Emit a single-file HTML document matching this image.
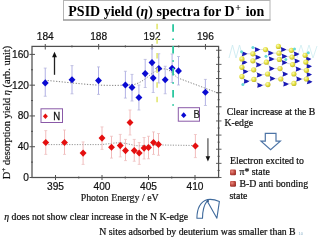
<!DOCTYPE html>
<html><head><meta charset="utf-8"><style>
html,body{margin:0;padding:0;background:#fff;width:320px;height:240px;overflow:hidden}
svg{display:block;will-change:transform}
</style></head><body>
<svg width="320" height="240" viewBox="0 0 320 240">
<rect width="320" height="240" fill="#fff"/>
<rect x="63.5" y="0.5" width="206.5" height="19.5" fill="#fff" stroke="#b4b4b4" stroke-width="1"/><line x1="63" y1="20" x2="270.5" y2="20" stroke="#8a8a8a" stroke-width="1"/>
<text transform="translate(68.3,15.5) scale(1,0.97)" font-family="'Liberation Serif', serif" font-weight="bold" font-size="14px" fill="#000">PSID yield (<tspan font-style="italic">η</tspan>) spectra for D<tspan font-size="10px" dy="-5" dx="0.6">+</tspan><tspan dy="5" dx="1.2"> ion</tspan></text>
<rect x="32.0" y="46.4" width="186.60" height="131.10" fill="none" stroke="#505050" stroke-width="1.25"/>
<line x1="29.5" y1="177.50" x2="35" y2="177.50" stroke="#505050" stroke-width="1"/>
<text transform="translate(29.0,180.90) scale(1,1.12)" text-anchor="end" font-family="'Liberation Sans', sans-serif" font-size="10.2px" fill="#111" stroke="#111" stroke-width="0.2">0</text>
<line x1="29.5" y1="146.72" x2="35" y2="146.72" stroke="#505050" stroke-width="1"/>
<text transform="translate(29.0,150.12) scale(1,1.12)" text-anchor="end" font-family="'Liberation Sans', sans-serif" font-size="10.2px" fill="#111" stroke="#111" stroke-width="0.2">40</text>
<line x1="29.5" y1="115.95" x2="35" y2="115.95" stroke="#505050" stroke-width="1"/>
<text transform="translate(29.0,119.35) scale(1,1.12)" text-anchor="end" font-family="'Liberation Sans', sans-serif" font-size="10.2px" fill="#111" stroke="#111" stroke-width="0.2">80</text>
<line x1="29.5" y1="85.17" x2="35" y2="85.17" stroke="#505050" stroke-width="1"/>
<text transform="translate(29.0,88.58) scale(1,1.12)" text-anchor="end" font-family="'Liberation Sans', sans-serif" font-size="10.2px" fill="#111" stroke="#111" stroke-width="0.2">120</text>
<line x1="29.5" y1="54.40" x2="35" y2="54.40" stroke="#505050" stroke-width="1"/>
<text transform="translate(29.0,57.80) scale(1,1.12)" text-anchor="end" font-family="'Liberation Sans', sans-serif" font-size="10.2px" fill="#111" stroke="#111" stroke-width="0.2">160</text>
<line x1="31" y1="162.11" x2="33" y2="162.11" stroke="#505050" stroke-width="1"/>
<line x1="31" y1="131.34" x2="33" y2="131.34" stroke="#505050" stroke-width="1"/>
<line x1="31" y1="100.56" x2="33" y2="100.56" stroke="#505050" stroke-width="1"/>
<line x1="31" y1="69.79" x2="33" y2="69.79" stroke="#505050" stroke-width="1"/>
<line x1="55.50" y1="175" x2="55.50" y2="180" stroke="#505050" stroke-width="1"/>
<text transform="translate(55.50,190.2) scale(1,1.12)" text-anchor="middle" font-family="'Liberation Sans', sans-serif" font-size="10.2px" fill="#111" stroke="#111" stroke-width="0.2">395</text>
<line x1="102.00" y1="175" x2="102.00" y2="180" stroke="#505050" stroke-width="1"/>
<text transform="translate(102.00,190.2) scale(1,1.12)" text-anchor="middle" font-family="'Liberation Sans', sans-serif" font-size="10.2px" fill="#111" stroke="#111" stroke-width="0.2">400</text>
<line x1="148.50" y1="175" x2="148.50" y2="180" stroke="#505050" stroke-width="1"/>
<text transform="translate(148.50,190.2) scale(1,1.12)" text-anchor="middle" font-family="'Liberation Sans', sans-serif" font-size="10.2px" fill="#111" stroke="#111" stroke-width="0.2">405</text>
<line x1="195.00" y1="175" x2="195.00" y2="180" stroke="#505050" stroke-width="1"/>
<text transform="translate(195.00,190.2) scale(1,1.12)" text-anchor="middle" font-family="'Liberation Sans', sans-serif" font-size="10.2px" fill="#111" stroke="#111" stroke-width="0.2">410</text>
<line x1="78.75" y1="176.5" x2="78.75" y2="178.5" stroke="#505050" stroke-width="1"/>
<line x1="125.25" y1="176.5" x2="125.25" y2="178.5" stroke="#505050" stroke-width="1"/>
<line x1="171.75" y1="176.5" x2="171.75" y2="178.5" stroke="#505050" stroke-width="1"/>
<line x1="45.25" y1="44" x2="45.25" y2="49.5" stroke="#505050" stroke-width="1"/>
<text transform="translate(45.25,40.3) scale(1,1.12)" text-anchor="middle" font-family="'Liberation Sans', sans-serif" font-size="10.2px" fill="#111" stroke="#111" stroke-width="0.2">184</text>
<line x1="98.65" y1="44" x2="98.65" y2="49.5" stroke="#505050" stroke-width="1"/>
<text transform="translate(98.65,40.3) scale(1,1.12)" text-anchor="middle" font-family="'Liberation Sans', sans-serif" font-size="10.2px" fill="#111" stroke="#111" stroke-width="0.2">188</text>
<line x1="152.05" y1="44" x2="152.05" y2="49.5" stroke="#505050" stroke-width="1"/>
<text transform="translate(152.05,40.3) scale(1,1.12)" text-anchor="middle" font-family="'Liberation Sans', sans-serif" font-size="10.2px" fill="#111" stroke="#111" stroke-width="0.2">192</text>
<line x1="205.45" y1="44" x2="205.45" y2="49.5" stroke="#505050" stroke-width="1"/>
<text transform="translate(205.45,40.3) scale(1,1.12)" text-anchor="middle" font-family="'Liberation Sans', sans-serif" font-size="10.2px" fill="#111" stroke="#111" stroke-width="0.2">196</text>
<line x1="71.95" y1="45.4" x2="71.95" y2="47.4" stroke="#505050" stroke-width="1"/>
<line x1="125.35" y1="45.4" x2="125.35" y2="47.4" stroke="#505050" stroke-width="1"/>
<line x1="178.75" y1="45.4" x2="178.75" y2="47.4" stroke="#505050" stroke-width="1"/>
<line x1="216" y1="50.25" x2="221.5" y2="50.25" stroke="#505050" stroke-width="0.9"/>
<line x1="217.5" y1="57.32" x2="219.8" y2="57.32" stroke="#505050" stroke-width="0.9"/>
<line x1="216" y1="64.39" x2="221.5" y2="64.39" stroke="#505050" stroke-width="0.9"/>
<line x1="217.5" y1="71.46" x2="219.8" y2="71.46" stroke="#505050" stroke-width="0.9"/>
<line x1="216" y1="78.53" x2="221.5" y2="78.53" stroke="#505050" stroke-width="0.9"/>
<line x1="217.5" y1="85.60" x2="219.8" y2="85.60" stroke="#505050" stroke-width="0.9"/>
<line x1="216" y1="92.67" x2="221.5" y2="92.67" stroke="#505050" stroke-width="0.9"/>
<line x1="217.5" y1="99.74" x2="219.8" y2="99.74" stroke="#505050" stroke-width="0.9"/>
<line x1="216" y1="106.81" x2="221.5" y2="106.81" stroke="#505050" stroke-width="0.9"/>
<line x1="217.5" y1="113.88" x2="219.8" y2="113.88" stroke="#505050" stroke-width="0.9"/>
<line x1="216" y1="120.95" x2="221.5" y2="120.95" stroke="#505050" stroke-width="0.9"/>
<line x1="217.5" y1="128.02" x2="219.8" y2="128.02" stroke="#505050" stroke-width="0.9"/>
<line x1="216" y1="135.09" x2="221.5" y2="135.09" stroke="#505050" stroke-width="0.9"/>
<line x1="217.5" y1="142.16" x2="219.8" y2="142.16" stroke="#505050" stroke-width="0.9"/>
<line x1="216" y1="149.23" x2="221.5" y2="149.23" stroke="#505050" stroke-width="0.9"/>
<line x1="217.5" y1="156.30" x2="219.8" y2="156.30" stroke="#505050" stroke-width="0.9"/>
<line x1="216" y1="163.37" x2="221.5" y2="163.37" stroke="#505050" stroke-width="0.9"/>
<line x1="217.5" y1="170.44" x2="219.8" y2="170.44" stroke="#505050" stroke-width="0.9"/>
<line x1="216" y1="177.51" x2="221.5" y2="177.51" stroke="#505050" stroke-width="0.9"/>
<text x="80.7" y="200.6" font-family="'Liberation Serif', serif" font-size="9.9px" fill="#111" stroke="#111" stroke-width="0.18">Photon Energy / eV</text>
<text transform="translate(10,179.2) rotate(-90) scale(1.04,1)" font-family="'Liberation Serif', serif" font-size="10px" fill="#111" stroke="#111" stroke-width="0.18">D<tspan font-size="7px" dy="-4.5">+</tspan><tspan dy="4.5"> desorption yield </tspan><tspan font-style="italic">η</tspan> (arb. unit)</text>
<path d="M45,80.3 C60,81.5 80,84 96,85 C110,85.6 124,85.6 134.5,84.4 C141,82.5 146,78.5 150,75 C154,71.5 159,69.2 164,68.9 C168,68.9 171,71.5 174,74.5 C175.5,76 177,77.6 178.5,78.2 L218,93" fill="none" stroke="#6e6e6e" stroke-width="0.9" stroke-dasharray="1.2 1.6"/>
<path d="M45.75,144.6 L100,144.6 C108,144.2 113,142.8 119,142.8 C124,142.8 128,144 132,144.8 C135,145.5 137,145.9 140,145.8 C148,145.3 155,145 162,145 L195.4,145.5" fill="none" stroke="#8a8a8a" stroke-width="0.9" stroke-dasharray="1.2 1.4"/>
<line x1="45.25" y1="68.10" x2="45.25" y2="96.25" stroke="#a8a8e2" stroke-width="0.9"/><line x1="43.75" y1="68.10" x2="46.75" y2="68.10" stroke="#b0b0d8" stroke-width="0.7"/><line x1="43.75" y1="96.25" x2="46.75" y2="96.25" stroke="#b0b0d8" stroke-width="0.7"/>
<line x1="72.00" y1="65.60" x2="72.00" y2="93.80" stroke="#a8a8e2" stroke-width="0.9"/><line x1="70.50" y1="65.60" x2="73.50" y2="65.60" stroke="#b0b0d8" stroke-width="0.7"/><line x1="70.50" y1="93.80" x2="73.50" y2="93.80" stroke="#b0b0d8" stroke-width="0.7"/>
<line x1="98.50" y1="66.90" x2="98.50" y2="94.40" stroke="#a8a8e2" stroke-width="0.9"/><line x1="97.00" y1="66.90" x2="100.00" y2="66.90" stroke="#b0b0d8" stroke-width="0.7"/><line x1="97.00" y1="94.40" x2="100.00" y2="94.40" stroke="#b0b0d8" stroke-width="0.7"/>
<line x1="125.40" y1="71.25" x2="125.40" y2="98.10" stroke="#a8a8e2" stroke-width="0.9"/><line x1="123.90" y1="71.25" x2="126.90" y2="71.25" stroke="#b0b0d8" stroke-width="0.7"/><line x1="123.90" y1="98.10" x2="126.90" y2="98.10" stroke="#b0b0d8" stroke-width="0.7"/>
<line x1="132.00" y1="74.40" x2="132.00" y2="101.00" stroke="#a8a8e2" stroke-width="0.9"/><line x1="130.50" y1="74.40" x2="133.50" y2="74.40" stroke="#b0b0d8" stroke-width="0.7"/><line x1="130.50" y1="101.00" x2="133.50" y2="101.00" stroke="#b0b0d8" stroke-width="0.7"/>
<line x1="138.90" y1="85.00" x2="138.90" y2="110.00" stroke="#a8a8e2" stroke-width="0.9"/><line x1="137.40" y1="85.00" x2="140.40" y2="85.00" stroke="#b0b0d8" stroke-width="0.7"/><line x1="137.40" y1="110.00" x2="140.40" y2="110.00" stroke="#b0b0d8" stroke-width="0.7"/>
<line x1="145.20" y1="59.40" x2="145.20" y2="87.50" stroke="#a8a8e2" stroke-width="0.9"/><line x1="143.70" y1="59.40" x2="146.70" y2="59.40" stroke="#b0b0d8" stroke-width="0.7"/><line x1="143.70" y1="87.50" x2="146.70" y2="87.50" stroke="#b0b0d8" stroke-width="0.7"/>
<line x1="152.00" y1="48.50" x2="152.00" y2="76.50" stroke="#a8a8e2" stroke-width="0.9"/><line x1="150.50" y1="48.50" x2="153.50" y2="48.50" stroke="#b0b0d8" stroke-width="0.7"/><line x1="150.50" y1="76.50" x2="153.50" y2="76.50" stroke="#b0b0d8" stroke-width="0.7"/>
<line x1="153.20" y1="63.50" x2="153.20" y2="92.50" stroke="#a8a8e2" stroke-width="0.9"/><line x1="151.70" y1="63.50" x2="154.70" y2="63.50" stroke="#b0b0d8" stroke-width="0.7"/><line x1="151.70" y1="92.50" x2="154.70" y2="92.50" stroke="#b0b0d8" stroke-width="0.7"/>
<line x1="158.80" y1="53.75" x2="158.80" y2="83.00" stroke="#a8a8e2" stroke-width="0.9"/><line x1="157.30" y1="53.75" x2="160.30" y2="53.75" stroke="#b0b0d8" stroke-width="0.7"/><line x1="157.30" y1="83.00" x2="160.30" y2="83.00" stroke="#b0b0d8" stroke-width="0.7"/>
<line x1="165.20" y1="66.25" x2="165.20" y2="93.75" stroke="#a8a8e2" stroke-width="0.9"/><line x1="163.70" y1="66.25" x2="166.70" y2="66.25" stroke="#b0b0d8" stroke-width="0.7"/><line x1="163.70" y1="93.75" x2="166.70" y2="93.75" stroke="#b0b0d8" stroke-width="0.7"/>
<line x1="172.10" y1="54.00" x2="172.10" y2="82.50" stroke="#a8a8e2" stroke-width="0.9"/><line x1="170.60" y1="54.00" x2="173.60" y2="54.00" stroke="#b0b0d8" stroke-width="0.7"/><line x1="170.60" y1="82.50" x2="173.60" y2="82.50" stroke="#b0b0d8" stroke-width="0.7"/>
<line x1="178.50" y1="56.50" x2="178.50" y2="85.00" stroke="#a8a8e2" stroke-width="0.9"/><line x1="177.00" y1="56.50" x2="180.00" y2="56.50" stroke="#b0b0d8" stroke-width="0.7"/><line x1="177.00" y1="85.00" x2="180.00" y2="85.00" stroke="#b0b0d8" stroke-width="0.7"/>
<line x1="205.40" y1="79.40" x2="205.40" y2="105.50" stroke="#a8a8e2" stroke-width="0.9"/><line x1="203.90" y1="79.40" x2="206.90" y2="79.40" stroke="#b0b0d8" stroke-width="0.7"/><line x1="203.90" y1="105.50" x2="206.90" y2="105.50" stroke="#b0b0d8" stroke-width="0.7"/>
<line x1="45.75" y1="130.60" x2="45.75" y2="154.40" stroke="#f0b4b4" stroke-width="0.9"/><line x1="44.25" y1="130.60" x2="47.25" y2="130.60" stroke="#ecbcbc" stroke-width="0.7"/><line x1="44.25" y1="154.40" x2="47.25" y2="154.40" stroke="#ecbcbc" stroke-width="0.7"/>
<line x1="64.50" y1="130.00" x2="64.50" y2="154.40" stroke="#f0b4b4" stroke-width="0.9"/><line x1="63.00" y1="130.00" x2="66.00" y2="130.00" stroke="#ecbcbc" stroke-width="0.7"/><line x1="63.00" y1="154.40" x2="66.00" y2="154.40" stroke="#ecbcbc" stroke-width="0.7"/>
<line x1="83.10" y1="141.90" x2="83.10" y2="164.40" stroke="#f0b4b4" stroke-width="0.9"/><line x1="81.60" y1="141.90" x2="84.60" y2="141.90" stroke="#ecbcbc" stroke-width="0.7"/><line x1="81.60" y1="164.40" x2="84.60" y2="164.40" stroke="#ecbcbc" stroke-width="0.7"/>
<line x1="102.00" y1="126.90" x2="102.00" y2="149.40" stroke="#f0b4b4" stroke-width="0.9"/><line x1="100.50" y1="126.90" x2="103.50" y2="126.90" stroke="#ecbcbc" stroke-width="0.7"/><line x1="100.50" y1="149.40" x2="103.50" y2="149.40" stroke="#ecbcbc" stroke-width="0.7"/>
<line x1="111.50" y1="136.25" x2="111.50" y2="158.10" stroke="#f0b4b4" stroke-width="0.9"/><line x1="110.00" y1="136.25" x2="113.00" y2="136.25" stroke="#ecbcbc" stroke-width="0.7"/><line x1="110.00" y1="158.10" x2="113.00" y2="158.10" stroke="#ecbcbc" stroke-width="0.7"/>
<line x1="120.25" y1="134.40" x2="120.25" y2="156.90" stroke="#f0b4b4" stroke-width="0.9"/><line x1="118.75" y1="134.40" x2="121.75" y2="134.40" stroke="#ecbcbc" stroke-width="0.7"/><line x1="118.75" y1="156.90" x2="121.75" y2="156.90" stroke="#ecbcbc" stroke-width="0.7"/>
<line x1="125.50" y1="139.40" x2="125.50" y2="160.60" stroke="#f0b4b4" stroke-width="0.9"/><line x1="124.00" y1="139.40" x2="127.00" y2="139.40" stroke="#ecbcbc" stroke-width="0.7"/><line x1="124.00" y1="160.60" x2="127.00" y2="160.60" stroke="#ecbcbc" stroke-width="0.7"/>
<line x1="130.00" y1="110.00" x2="130.00" y2="135.00" stroke="#f0b4b4" stroke-width="0.9"/><line x1="128.50" y1="110.00" x2="131.50" y2="110.00" stroke="#ecbcbc" stroke-width="0.7"/><line x1="128.50" y1="135.00" x2="131.50" y2="135.00" stroke="#ecbcbc" stroke-width="0.7"/>
<line x1="134.25" y1="139.40" x2="134.25" y2="161.25" stroke="#f0b4b4" stroke-width="0.9"/><line x1="132.75" y1="139.40" x2="135.75" y2="139.40" stroke="#ecbcbc" stroke-width="0.7"/><line x1="132.75" y1="161.25" x2="135.75" y2="161.25" stroke="#ecbcbc" stroke-width="0.7"/>
<line x1="139.20" y1="142.50" x2="139.20" y2="164.40" stroke="#f0b4b4" stroke-width="0.9"/><line x1="137.70" y1="142.50" x2="140.70" y2="142.50" stroke="#ecbcbc" stroke-width="0.7"/><line x1="137.70" y1="164.40" x2="140.70" y2="164.40" stroke="#ecbcbc" stroke-width="0.7"/>
<line x1="144.10" y1="137.50" x2="144.10" y2="159.00" stroke="#f0b4b4" stroke-width="0.9"/><line x1="142.60" y1="137.50" x2="145.60" y2="137.50" stroke="#ecbcbc" stroke-width="0.7"/><line x1="142.60" y1="159.00" x2="145.60" y2="159.00" stroke="#ecbcbc" stroke-width="0.7"/>
<line x1="148.50" y1="136.25" x2="148.50" y2="158.75" stroke="#f0b4b4" stroke-width="0.9"/><line x1="147.00" y1="136.25" x2="150.00" y2="136.25" stroke="#ecbcbc" stroke-width="0.7"/><line x1="147.00" y1="158.75" x2="150.00" y2="158.75" stroke="#ecbcbc" stroke-width="0.7"/>
<line x1="153.50" y1="131.90" x2="153.50" y2="154.40" stroke="#f0b4b4" stroke-width="0.9"/><line x1="152.00" y1="131.90" x2="155.00" y2="131.90" stroke="#ecbcbc" stroke-width="0.7"/><line x1="152.00" y1="154.40" x2="155.00" y2="154.40" stroke="#ecbcbc" stroke-width="0.7"/>
<line x1="158.50" y1="133.50" x2="158.50" y2="155.25" stroke="#f0b4b4" stroke-width="0.9"/><line x1="157.00" y1="133.50" x2="160.00" y2="133.50" stroke="#ecbcbc" stroke-width="0.7"/><line x1="157.00" y1="155.25" x2="160.00" y2="155.25" stroke="#ecbcbc" stroke-width="0.7"/>
<line x1="195.40" y1="134.50" x2="195.40" y2="157.60" stroke="#f0b4b4" stroke-width="0.9"/><line x1="193.90" y1="134.50" x2="196.90" y2="134.50" stroke="#ecbcbc" stroke-width="0.7"/><line x1="193.90" y1="157.60" x2="196.90" y2="157.60" stroke="#ecbcbc" stroke-width="0.7"/>
<path d="M45.25,79.35 L48.70,82.90 L45.25,86.45 L41.80,82.90 Z" fill="#0a0ad2"/>
<path d="M72.00,76.15 L75.45,79.70 L72.00,83.25 L68.55,79.70 Z" fill="#0a0ad2"/>
<path d="M98.50,77.05 L101.95,80.60 L98.50,84.15 L95.05,80.60 Z" fill="#0a0ad2"/>
<path d="M125.40,81.45 L128.85,85.00 L125.40,88.55 L121.95,85.00 Z" fill="#0a0ad2"/>
<path d="M132.00,83.85 L135.45,87.40 L132.00,90.95 L128.55,87.40 Z" fill="#0a0ad2"/>
<path d="M138.90,93.95 L142.35,97.50 L138.90,101.05 L135.45,97.50 Z" fill="#0a0ad2"/>
<path d="M145.20,70.05 L148.65,73.60 L145.20,77.15 L141.75,73.60 Z" fill="#0a0ad2"/>
<path d="M152.00,59.05 L155.45,62.60 L152.00,66.15 L148.55,62.60 Z" fill="#0a0ad2"/>
<path d="M153.20,74.55 L156.65,78.10 L153.20,81.65 L149.75,78.10 Z" fill="#0a0ad2"/>
<path d="M158.80,64.95 L162.25,68.50 L158.80,72.05 L155.35,68.50 Z" fill="#0a0ad2"/>
<path d="M165.20,76.15 L168.65,79.70 L165.20,83.25 L161.75,79.70 Z" fill="#0a0ad2"/>
<path d="M172.10,64.75 L175.55,68.30 L172.10,71.85 L168.65,68.30 Z" fill="#0a0ad2"/>
<path d="M178.50,67.35 L181.95,70.90 L178.50,74.45 L175.05,70.90 Z" fill="#0a0ad2"/>
<path d="M205.40,88.75 L208.85,92.30 L205.40,95.85 L201.95,92.30 Z" fill="#0a0ad2"/>
<path d="M45.75,138.95 L49.20,142.50 L45.75,146.05 L42.30,142.50 Z" fill="#e40f0f"/>
<path d="M64.50,138.95 L67.95,142.50 L64.50,146.05 L61.05,142.50 Z" fill="#e40f0f"/>
<path d="M83.10,149.55 L86.55,153.10 L83.10,156.65 L79.65,153.10 Z" fill="#e40f0f"/>
<path d="M102.00,134.55 L105.45,138.10 L102.00,141.65 L98.55,138.10 Z" fill="#e40f0f"/>
<path d="M111.50,143.70 L114.95,147.25 L111.50,150.80 L108.05,147.25 Z" fill="#e40f0f"/>
<path d="M120.25,142.05 L123.70,145.60 L120.25,149.15 L116.80,145.60 Z" fill="#e40f0f"/>
<path d="M125.50,147.05 L128.95,150.60 L125.50,154.15 L122.05,150.60 Z" fill="#e40f0f"/>
<path d="M130.00,118.95 L133.45,122.50 L130.00,126.05 L126.55,122.50 Z" fill="#e40f0f"/>
<path d="M134.25,147.05 L137.70,150.60 L134.25,154.15 L130.80,150.60 Z" fill="#e40f0f"/>
<path d="M139.20,149.45 L142.65,153.00 L139.20,156.55 L135.75,153.00 Z" fill="#e40f0f"/>
<path d="M144.10,144.55 L147.55,148.10 L144.10,151.65 L140.65,148.10 Z" fill="#e40f0f"/>
<path d="M148.50,143.95 L151.95,147.50 L148.50,151.05 L145.05,147.50 Z" fill="#e40f0f"/>
<path d="M153.50,138.95 L156.95,142.50 L153.50,146.05 L150.05,142.50 Z" fill="#e40f0f"/>
<path d="M158.50,140.85 L161.95,144.40 L158.50,147.95 L155.05,144.40 Z" fill="#e40f0f"/>
<path d="M195.40,142.45 L198.85,146.00 L195.40,149.55 L191.95,146.00 Z" fill="#e40f0f"/>
<line x1="157.1" y1="23.75" x2="157.1" y2="108.2" stroke="#e4e87a" stroke-width="1.7" stroke-dasharray="5.5 9.1"/>
<line x1="173.1" y1="24.2" x2="173.1" y2="105.8" stroke="#2cc8a0" stroke-width="1.8" stroke-dasharray="7.5 6.75 1.5 6.15"/>
<rect x="41" y="108.8" width="21.5" height="13.7" fill="#fff" stroke="#8a5aa8" stroke-width="1"/>
<path d="M45.40,113.60 L47.90,116.30 L45.40,119.00 L42.90,116.30 Z" fill="#e40f0f"/>
<text transform="translate(53.2,119.5) scale(1,1.1)" font-family="'Liberation Sans', sans-serif" font-size="9.6px" fill="#111" stroke="#111" stroke-width="0.25">N</text>
<rect x="178.3" y="107.7" width="21.2" height="13.5" fill="#fff" stroke="#8a5aa8" stroke-width="1"/>
<path d="M183.70,112.30 L186.40,115.20 L183.70,118.10 L181.00,115.20 Z" fill="#0a0ad2"/>
<text transform="translate(193.6,117.6) scale(1,1.1)" font-family="'Liberation Sans', sans-serif" font-size="9.6px" fill="#222" stroke="#222" stroke-width="0.2">B</text>
<line x1="54.5" y1="56" x2="54.5" y2="74.8" stroke="#222" stroke-width="1.3"/>
<path d="M54.5,51.8 L56.9,57.2 L52.1,57.2 Z" fill="#111"/>
<line x1="207.9" y1="138.3" x2="207.9" y2="157" stroke="#7a7a7a" stroke-width="1.6"/>
<path d="M207.9,161.5 L210.2,156.3 L205.6,156.3 Z" fill="#111"/>
<defs><radialGradient id="bul" cx="0.35" cy="0.35" r="0.8"><stop offset="0" stop-color="#e88a80"/><stop offset="0.5" stop-color="#c04a40"/><stop offset="1" stop-color="#8c2a24"/></radialGradient></defs>
<text x="226.7" y="115" font-family="'Liberation Serif', serif" font-size="9.8px" fill="#111" stroke="#111" stroke-width="0.22">Clear increase at the B</text>
<text x="224.4" y="126.3" font-family="'Liberation Serif', serif" font-size="9.8px" fill="#111" stroke="#111" stroke-width="0.22">K-edge</text>
<path d="M265.3,133.4 L276,133.4 L276,141.2 L280.3,141.2 L270.6,149.6 L261,141.2 L265.3,141.2 Z" fill="#fff" stroke="#4d74a6" stroke-width="1.2" stroke-linejoin="miter"/>
<text x="230" y="163.5" font-family="'Liberation Serif', serif" font-size="9.8px" fill="#111" stroke="#111" stroke-width="0.22">Electron excited to</text>
<rect x="230" y="169.6" width="6" height="5.7" rx="1.3" fill="url(#bul)"/>
<text x="239.5" y="175.3" font-family="'Liberation Serif', serif" font-size="9.8px" fill="#111" stroke="#111" stroke-width="0.22">π* state</text>
<rect x="230" y="181" width="6" height="5.7" rx="1.3" fill="url(#bul)"/>
<text x="239.5" y="186.7" font-family="'Liberation Serif', serif" font-size="9.8px" fill="#111" stroke="#111" stroke-width="0.22">B-D anti bonding</text>
<text x="229.5" y="198.8" font-family="'Liberation Serif', serif" font-size="9.8px" fill="#111" stroke="#111" stroke-width="0.22">state</text>
<text x="4.3" y="220" font-family="'Liberation Serif', serif" font-size="9.75px" fill="#111" stroke="#111" stroke-width="0.22"><tspan font-style="italic">η</tspan> does not show clear increase in the N K-edge</text>
<text x="99.2" y="235.2" font-family="'Liberation Serif', serif" font-size="9.8px" fill="#111" stroke="#111" stroke-width="0.22">N sites adsorbed by deuterium was smaller than B</text>
<text x="298.5" y="234.5" font-family="'Liberation Sans', sans-serif" font-size="4px" fill="#8ab0c8">10</text>
<path d="M196.9,218.2 C197,209 200,202 207.5,199.6 C211.5,199 215.5,199.8 219.4,201.4 L216.9,218.2 L207.2,200.9 C204,205 202.5,211 202.5,218.2 Z" fill="#fff" stroke="#3f6a9c" stroke-width="1.1" stroke-linejoin="round"/>
<circle cx="208" cy="201" r="1" fill="#2a4f80"/>
<defs><radialGradient id="yg" cx="0.38" cy="0.35" r="0.7"><stop offset="0" stop-color="#fafab8"/><stop offset="0.55" stop-color="#e4e040"/><stop offset="1" stop-color="#bcb428"/></radialGradient><radialGradient id="bg" cx="0.4" cy="0.35" r="0.7"><stop offset="0" stop-color="#5050f0"/><stop offset="1" stop-color="#1010a0"/></radialGradient></defs>
<path d="M229,58 L232.5,45 L236,58 L239.5,45 L242.5,56" fill="none" stroke="#cdebf0" stroke-width="0.9"/>
<path d="M297,58 L301,45 L305,58 L309,45 L313,58 L317,46" fill="none" stroke="#d2eef2" stroke-width="0.9"/>
<path d="M244.4,53.8L241.9,58.9M244.4,53.8L252.9,53.8M244.4,62.2L241.9,58.9M244.4,62.2L241.9,67.3M245.3,71.5L241.9,67.3M245.3,71.5L241.9,76.6M245.3,71.5L253.7,69.8M246.3,81.2L241.9,76.6M246.3,81.2L253.9,79.4M257.1,49.6L252.9,53.8M257.1,49.6L265.5,49.6M257.9,57.2L252.9,53.8M257.9,57.2L252.9,60.8M258.6,64.8L252.9,60.8M258.6,64.8L253.7,69.8M258.6,64.8L266.4,62.2M259.4,74.9L253.7,69.8M259.4,74.9L253.9,79.4M259.4,74.9L267.6,74.0M259.8,85.3L253.9,79.4M259.8,85.3L267.9,84.6M270.6,53.0L265.5,49.6M270.6,53.0L279.0,53.2M271.4,58.9L266.4,62.2M271.4,58.9L279.4,59.4M271.6,68.4L266.4,62.2M271.6,68.4L267.6,74.0M271.6,68.4L280.0,68.6M272.3,78.6L267.6,74.0M272.3,78.6L267.9,84.6M272.3,78.6L280.8,79.0M283.3,49.6L278.4,46.4M283.3,49.6L279.0,53.2M283.3,49.6L291.4,50.3M284.3,56.3L279.0,53.2M284.3,56.3L279.4,59.4M284.3,56.3L292.0,57.1M284.3,62.6L279.4,59.4M284.3,62.6L280.0,68.6M284.3,62.6L292.6,64.6M285.1,74.0L280.0,68.6M285.1,74.0L280.8,79.0M285.8,84.0L280.8,79.0M285.8,84.0L293.9,83.4M296.4,54.0L291.4,50.3M296.4,54.0L292.0,57.1M297.0,60.9L292.0,57.1M297.0,60.9L292.6,64.6M298.3,69.0L292.6,64.6M298.3,69.0L293.9,74.0M298.3,69.0L306.4,70.3M298.9,79.0L293.9,74.0M298.9,79.0L293.9,83.4M298.9,79.0L306.4,79.0M308.3,59.0L305.1,55.3M308.3,59.0L305.8,62.1M308.9,66.2L305.8,62.1M308.9,66.2L306.4,70.3M308.9,74.6L306.4,70.3M308.9,74.6L306.4,79.0M309.4,81.7L306.4,79.0" stroke="#d0d0d0" stroke-width="0.8" fill="none"/>
<path d="M241.80,51.30 Q245.40,52.30 247.50,53.80 Q245.40,55.30 241.80,56.30 Q243.00,53.80 241.80,51.30 Z" fill="#1a1ab4"/>
<path d="M241.80,59.70 Q245.40,60.70 247.50,62.20 Q245.40,63.70 241.80,64.70 Q243.00,62.20 241.80,59.70 Z" fill="#1a1ab4"/>
<path d="M242.70,69.00 Q246.30,70.00 248.40,71.50 Q246.30,73.00 242.70,74.00 Q243.90,71.50 242.70,69.00 Z" fill="#1a1ab4"/>
<path d="M243.70,78.70 Q247.30,79.70 249.40,81.20 Q247.30,82.70 243.70,83.70 Q244.90,81.20 243.70,78.70 Z" fill="#1a1ab4"/>
<path d="M254.50,47.10 Q258.10,48.10 260.20,49.60 Q258.10,51.10 254.50,52.10 Q255.70,49.60 254.50,47.10 Z" fill="#1a1ab4"/>
<path d="M255.30,54.70 Q258.90,55.70 261.00,57.20 Q258.90,58.70 255.30,59.70 Q256.50,57.20 255.30,54.70 Z" fill="#1a1ab4"/>
<path d="M256.00,62.30 Q259.60,63.30 261.70,64.80 Q259.60,66.30 256.00,67.30 Q257.20,64.80 256.00,62.30 Z" fill="#1a1ab4"/>
<path d="M256.80,72.40 Q260.40,73.40 262.50,74.90 Q260.40,76.40 256.80,77.40 Q258.00,74.90 256.80,72.40 Z" fill="#1a1ab4"/>
<path d="M257.20,82.80 Q260.80,83.80 262.90,85.30 Q260.80,86.80 257.20,87.80 Q258.40,85.30 257.20,82.80 Z" fill="#1a1ab4"/>
<path d="M268.00,50.50 Q271.60,51.50 273.70,53.00 Q271.60,54.50 268.00,55.50 Q269.20,53.00 268.00,50.50 Z" fill="#1a1ab4"/>
<path d="M268.80,56.40 Q272.40,57.40 274.50,58.90 Q272.40,60.40 268.80,61.40 Q270.00,58.90 268.80,56.40 Z" fill="#1a1ab4"/>
<path d="M269.00,65.90 Q272.60,66.90 274.70,68.40 Q272.60,69.90 269.00,70.90 Q270.20,68.40 269.00,65.90 Z" fill="#1a1ab4"/>
<path d="M269.70,76.10 Q273.30,77.10 275.40,78.60 Q273.30,80.10 269.70,81.10 Q270.90,78.60 269.70,76.10 Z" fill="#1a1ab4"/>
<path d="M280.70,47.10 Q284.30,48.10 286.40,49.60 Q284.30,51.10 280.70,52.10 Q281.90,49.60 280.70,47.10 Z" fill="#1a1ab4"/>
<path d="M281.70,53.80 Q285.30,54.80 287.40,56.30 Q285.30,57.80 281.70,58.80 Q282.90,56.30 281.70,53.80 Z" fill="#1a1ab4"/>
<path d="M281.70,60.10 Q285.30,61.10 287.40,62.60 Q285.30,64.10 281.70,65.10 Q282.90,62.60 281.70,60.10 Z" fill="#1a1ab4"/>
<path d="M282.50,71.50 Q286.10,72.50 288.20,74.00 Q286.10,75.50 282.50,76.50 Q283.70,74.00 282.50,71.50 Z" fill="#1a1ab4"/>
<path d="M283.20,81.50 Q286.80,82.50 288.90,84.00 Q286.80,85.50 283.20,86.50 Q284.40,84.00 283.20,81.50 Z" fill="#1a1ab4"/>
<path d="M293.80,51.50 Q297.40,52.50 299.50,54.00 Q297.40,55.50 293.80,56.50 Q295.00,54.00 293.80,51.50 Z" fill="#1a1ab4"/>
<path d="M294.40,58.40 Q298.00,59.40 300.10,60.90 Q298.00,62.40 294.40,63.40 Q295.60,60.90 294.40,58.40 Z" fill="#1a1ab4"/>
<path d="M295.70,66.50 Q299.30,67.50 301.40,69.00 Q299.30,70.50 295.70,71.50 Q296.90,69.00 295.70,66.50 Z" fill="#1a1ab4"/>
<path d="M296.30,76.50 Q299.90,77.50 302.00,79.00 Q299.90,80.50 296.30,81.50 Q297.50,79.00 296.30,76.50 Z" fill="#1a1ab4"/>
<path d="M305.70,56.50 Q309.30,57.50 311.40,59.00 Q309.30,60.50 305.70,61.50 Q306.90,59.00 305.70,56.50 Z" fill="#1a1ab4"/>
<path d="M306.30,63.70 Q309.90,64.70 312.00,66.20 Q309.90,67.70 306.30,68.70 Q307.50,66.20 306.30,63.70 Z" fill="#1a1ab4"/>
<path d="M306.30,72.10 Q309.90,73.10 312.00,74.60 Q309.90,76.10 306.30,77.10 Q307.50,74.60 306.30,72.10 Z" fill="#1a1ab4"/>
<path d="M306.80,79.20 Q310.40,80.20 312.50,81.70 Q310.40,83.20 306.80,84.20 Q308.00,81.70 306.80,79.20 Z" fill="#1a1ab4"/>
<circle cx="241.90" cy="58.90" r="2.6" fill="url(#yg)"/>
<circle cx="241.90" cy="67.30" r="2.6" fill="url(#yg)"/>
<circle cx="241.90" cy="76.60" r="2.6" fill="url(#yg)"/>
<circle cx="252.90" cy="53.80" r="2.6" fill="url(#yg)"/>
<circle cx="252.90" cy="60.80" r="2.6" fill="url(#yg)"/>
<circle cx="253.70" cy="69.80" r="2.6" fill="url(#yg)"/>
<circle cx="253.90" cy="79.40" r="2.6" fill="url(#yg)"/>
<circle cx="265.50" cy="49.60" r="2.6" fill="url(#yg)"/>
<circle cx="266.40" cy="62.20" r="2.6" fill="url(#yg)"/>
<circle cx="267.60" cy="74.00" r="2.6" fill="url(#yg)"/>
<circle cx="267.90" cy="84.60" r="2.6" fill="url(#yg)"/>
<circle cx="278.40" cy="46.40" r="2.6" fill="url(#yg)"/>
<circle cx="279.00" cy="53.20" r="2.6" fill="url(#yg)"/>
<circle cx="279.40" cy="59.40" r="2.6" fill="url(#yg)"/>
<circle cx="280.00" cy="68.60" r="2.6" fill="url(#yg)"/>
<circle cx="280.80" cy="79.00" r="2.6" fill="url(#yg)"/>
<circle cx="291.40" cy="50.30" r="2.6" fill="url(#yg)"/>
<circle cx="292.00" cy="57.10" r="2.6" fill="url(#yg)"/>
<circle cx="292.60" cy="64.60" r="2.6" fill="url(#yg)"/>
<circle cx="293.90" cy="74.00" r="2.6" fill="url(#yg)"/>
<circle cx="293.90" cy="83.40" r="2.6" fill="url(#yg)"/>
<circle cx="305.10" cy="55.30" r="2.6" fill="url(#yg)"/>
<circle cx="305.80" cy="62.10" r="2.6" fill="url(#yg)"/>
<circle cx="306.40" cy="70.30" r="2.6" fill="url(#yg)"/>
<circle cx="306.40" cy="79.00" r="2.6" fill="url(#yg)"/>
<circle cx="241.60" cy="51.80" r="1.5" fill="#66d8d4"/>
<circle cx="252.90" cy="47.40" r="1.5" fill="#66d8d4"/>
<circle cx="294.50" cy="49.00" r="1.5" fill="#66d8d4"/>
<circle cx="308.30" cy="52.80" r="1.5" fill="#66d8d4"/>
<circle cx="285.80" cy="59.60" r="1.5" fill="#66d8d4"/>
<circle cx="242.90" cy="84.60" r="1.5" fill="#66d8d4"/>
<circle cx="266.00" cy="56.30" r="1.5" fill="#66d8d4"/>
</svg>
</body></html>
